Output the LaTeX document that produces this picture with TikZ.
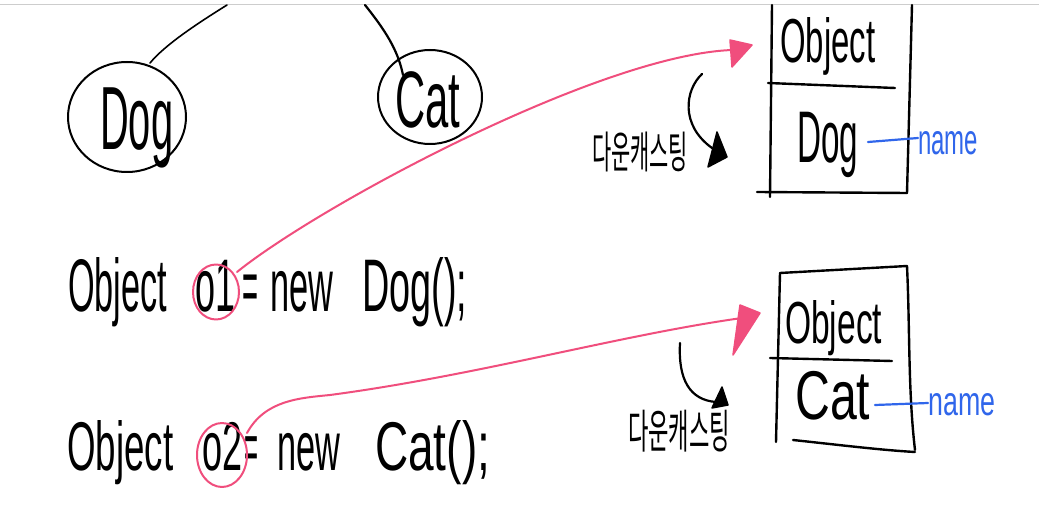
\documentclass[tikz,border=0pt]{standalone}
\usepackage{fontspec}
\usepackage{graphicx}
\usetikzlibrary{shapes.geometric}
\setmainfont{Liberation Sans}
\newfontfamily\krfont{Noto Sans CJK KR}
\definecolor{penpink}{RGB}{240,78,125}
\definecolor{penblue}{RGB}{48,102,235}
\definecolor{edgegray}{RGB}{205,205,205}
\newcommand{\hw}[3]{\resizebox{#1pt}{#2pt}{\vphantom{Ob}#3}}
\newcommand{\hx}[3]{\resizebox{#1pt}{#2pt}{#3}}
\begin{document}
\begin{tikzpicture}[x=1pt,y=-1pt,
  ink/.style={draw=black,line width=2.4pt,line cap=round,line join=round},
  pinkpen/.style={draw=penpink,line width=2pt,line cap=round,line join=round},
  bluepen/.style={draw=penblue,line width=2.2pt,line cap=round},
  word/.style={inner sep=0pt,anchor=base west,text=black},
  blueword/.style={inner sep=0pt,anchor=base west,text=penblue},
  tip/.style={line width=1.5pt,line join=round}]
\useasboundingbox (0,0) rectangle (1039,521);
\fill[white] (0,0) rectangle (1039,521);
\draw[edgegray,line width=1pt] (0,5) -- (1039,5);

% class hierarchy
\coordinate (dogup) at (227,5);
\coordinate (catup) at (365,5);
\node[ink,ellipse,minimum width=118pt,minimum height=110pt,inner sep=0pt,line width=2pt] (dogell) at (127,117) {};
\node[ink,ellipse,minimum width=104pt,minimum height=94pt,inner sep=0pt,line width=2pt] (catell) at (430,97) {};
\node[word] (dogtxt) at (100,150) {\hw{73}{65}{Dog}};
\node[word] (cattxt) at (395,128) {\hw{65}{58}{Cat}};
\draw[line width=1.6pt,line cap=round] (dogup) .. controls (195,25) and (165,45) .. (150,63);
\draw[line width=2.2pt,line cap=round] (catup) .. controls (385,30) and (398,50) .. (403,75);

% code lines
\node[word] (l1a) at (68,312) {\hw{99}{54}{Object}};
\node[word] (l1b) at (195,312) {\hw{40}{54}{o1}};
\node[word] (l1c) at (242,312) {\hw{16}{54}{=}};
\node[word] (l1d) at (270,312) {\hw{63}{54}{new}};
\node[word] (l1e) at (362,312) {\hw{105}{54}{Dog();}};
\node[word] (l2a) at (67,470) {\hw{106}{50}{Object}};
\node[word] (l2b) at (202,470) {\hw{40}{50}{o2}};
\node[word] (l2c) at (244,470) {\hw{14}{50}{=}};
\node[word] (l2d) at (277,470) {\hw{63}{50}{new}};
\node[word] (l2e) at (375,470) {\hw{115}{50}{Cat();}};

% pink circles
\node[pinkpen,ellipse,minimum width=46pt,minimum height=55pt,inner sep=0pt] (c1) at (216,292) {};
\node[pinkpen,ellipse,minimum width=50pt,minimum height=64pt,inner sep=0pt] (c2) at (222,455) {};

% object boxes
\draw[ink] (772,5) -- (770,197);
\draw[ink] (912,5) -- (907,193);
\draw[ink] (768,83) -- (895,88);
\draw[ink] (757,192) -- (907,193);
\node[word] (b1obj) at (780,63) {\hw{95}{45}{Object}};
\node[word] (b1dog) at (797,163) {\hw{61}{53}{Dog}};

\draw[ink] (780,273) -- (907,266);
\draw[ink] (780,273) -- (776,442);
\draw[ink] (907,266) .. controls (910,330) and (908,390) .. (915,450);
\draw[ink] (770,358) -- (892,361);
\draw[ink] (793,440) .. controls (840,445) and (880,450) .. (915,452);
\node[word] (b2obj) at (785,343) {\hw{97}{43}{Object}};
\node[word] (b2cat) at (795,420) {\hw{75}{50}{Cat}};

% name labels
\node[blueword] (n1) at (918,155) {\hx{60}{23}{name}};
\node[blueword] (n2) at (928,415) {\hx{67}{22}{name}};
\draw[bluepen] (868,142) -- (n1.west |- 0,138);
\draw[bluepen] (875,405) -- (n2.west |- 0,403);

% pink arrows
\coordinate (t1) at (732,50);
\coordinate (t2) at (742,318);
\draw[pinkpen] (237,272) .. controls (320,205) and (600,55) .. (t1);
\fill[penpink,draw=penpink,tip] (730,40) -- (752,45) -- (732,67) -- cycle;
\draw[pinkpen] (247,433) .. controls (265,400) and (300,398) .. (330,395)
  .. controls (480,375) and (620,335) .. (t2);
\fill[penpink,draw=penpink,tip] (740,305) -- (760,313) -- (733,355) -- cycle;

% downcasting annotations
\node[inner sep=0pt] (k1) at (640,152) {\resizebox*{96pt}{40pt}{\krfont 다운캐스팅}};
\node[inner sep=0pt] (k2) at (679,431) {\resizebox*{102pt}{42pt}{\krfont 다운캐스팅}};
\draw[ink,line width=2.2pt] (702,74) .. controls (685,90) and (680,125) .. (712,148);
\fill[black,draw=black,tip] (717,132) -- (727,157) -- (708,167) -- cycle;
\draw[ink,line width=2.2pt] (680,343) .. controls (678,380) and (690,400) .. (716,402);
\fill[black,draw=black,tip] (722,387) -- (728,405) -- (712,408) -- cycle;
\end{tikzpicture}
\end{document}
